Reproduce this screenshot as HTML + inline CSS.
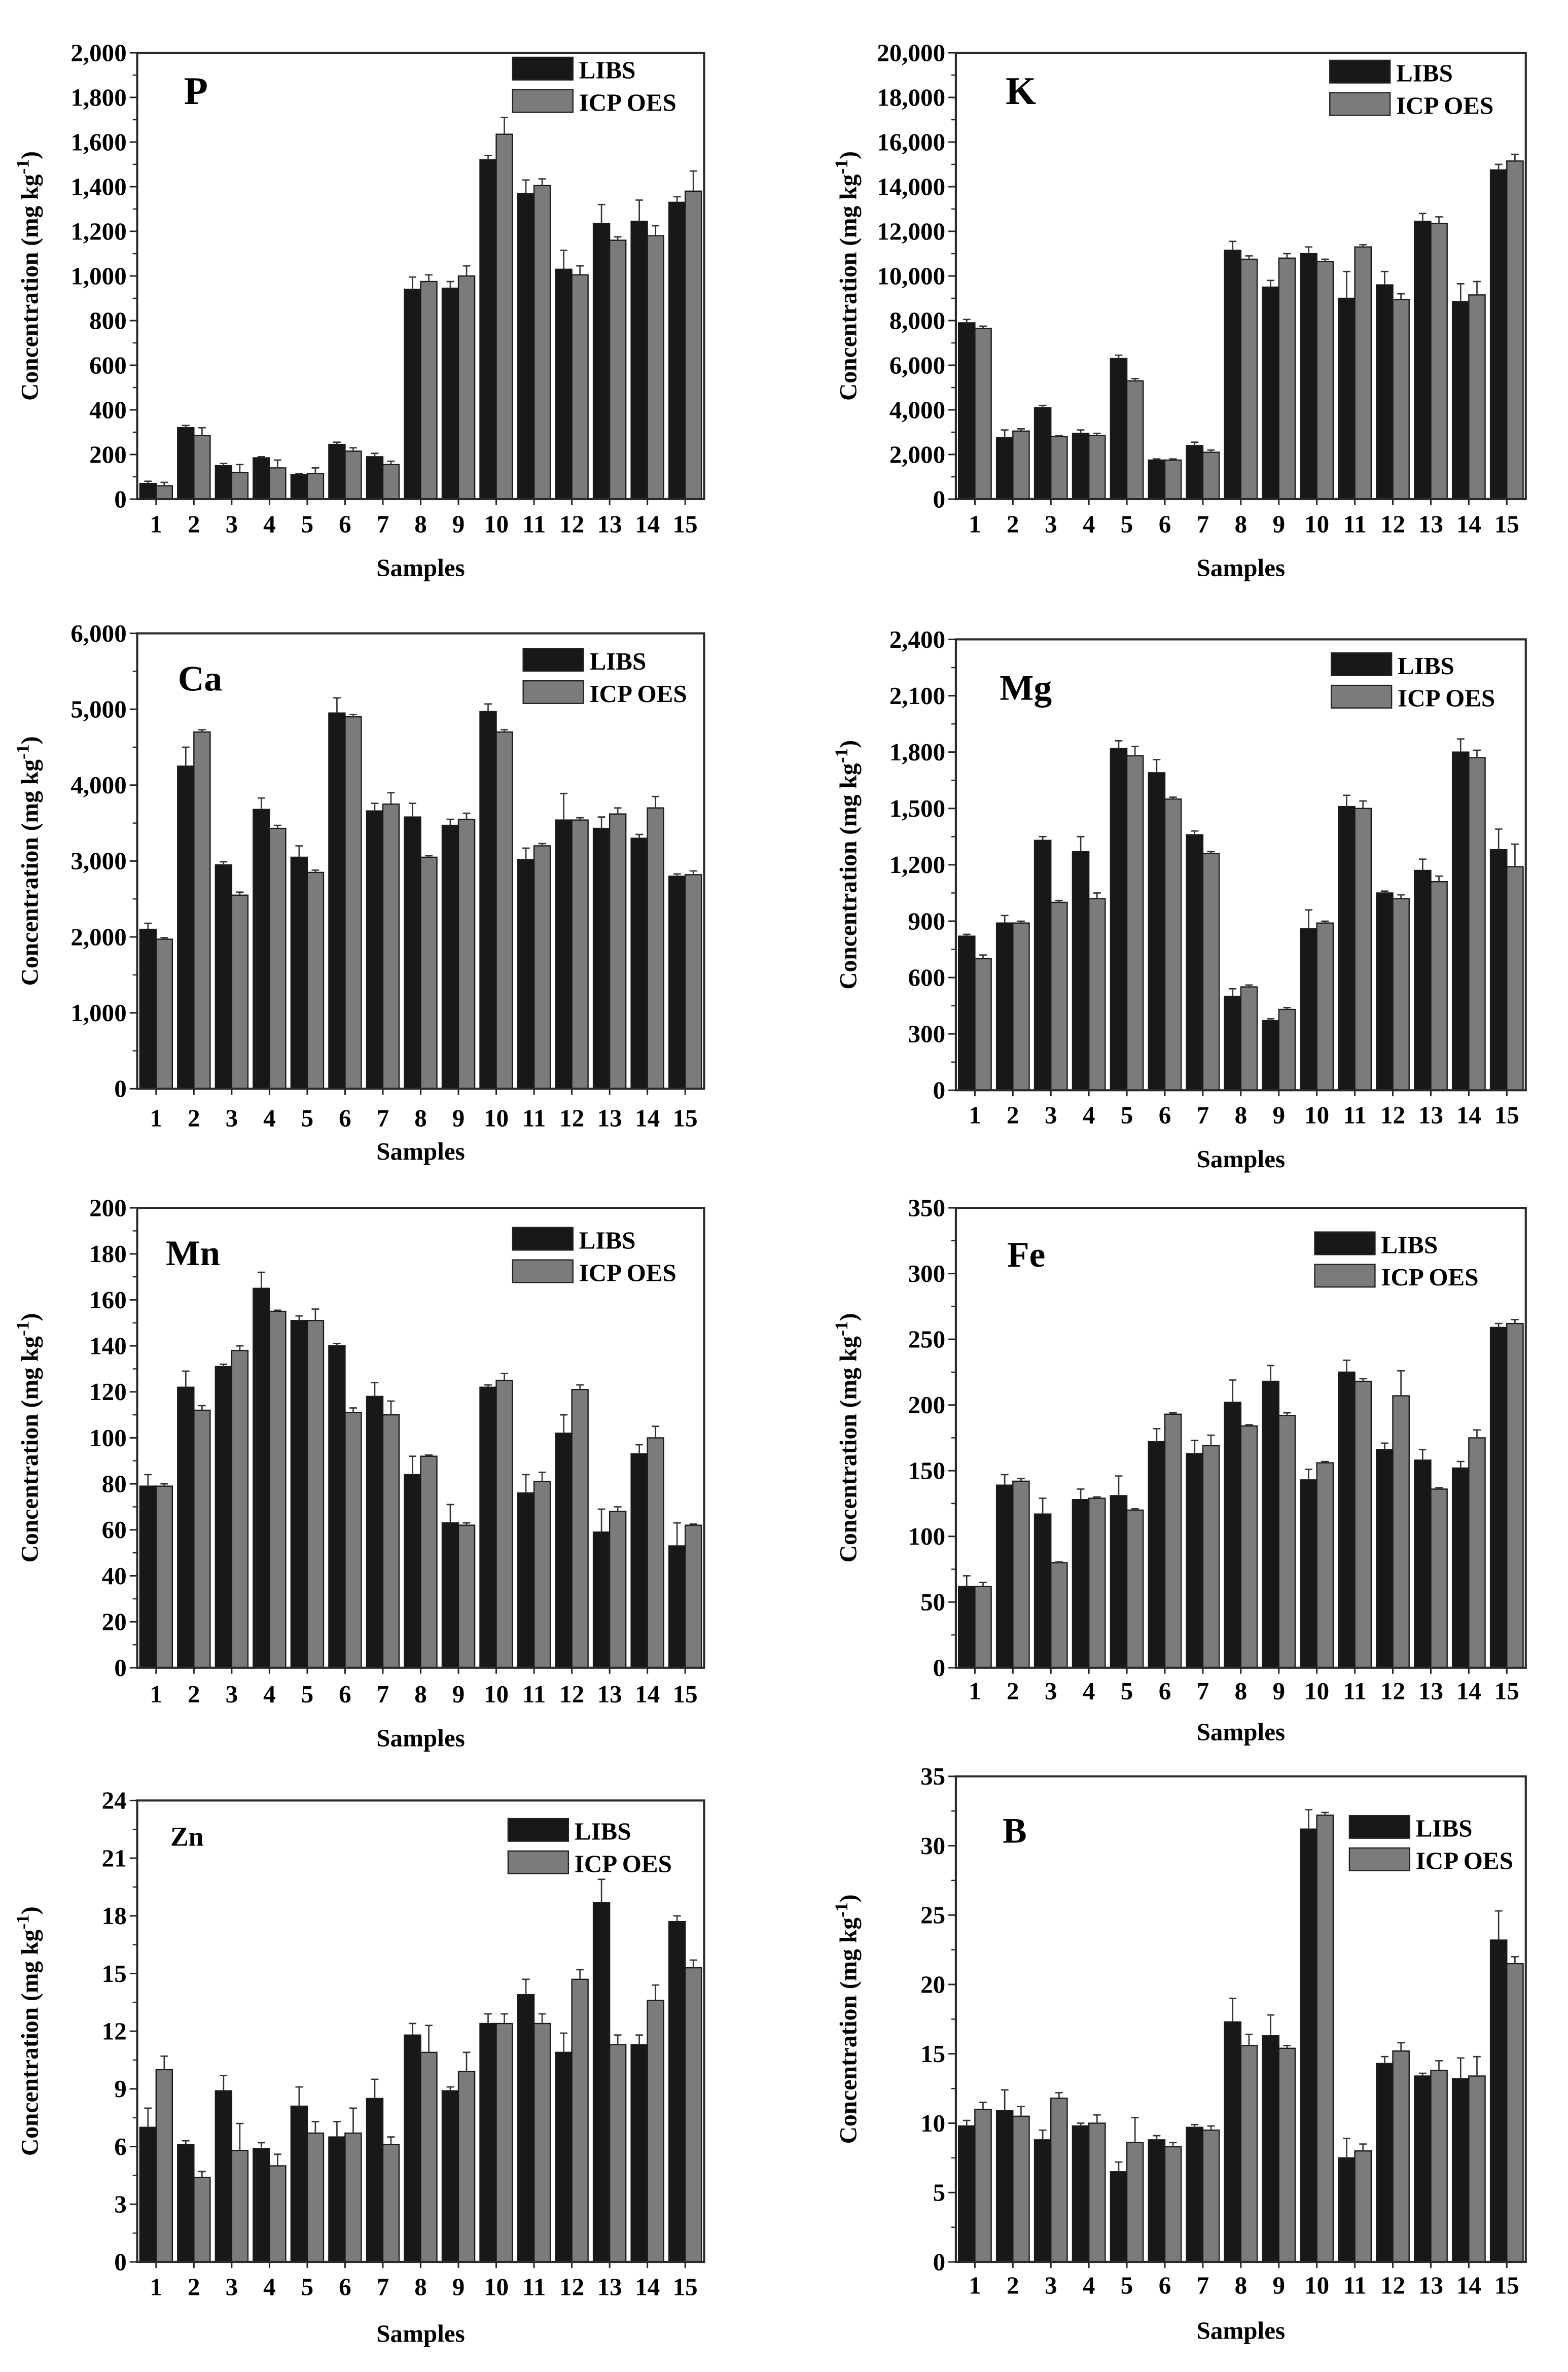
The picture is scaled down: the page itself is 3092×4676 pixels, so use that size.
<!DOCTYPE html>
<html><head><meta charset="utf-8"><style>html,body{margin:0;padding:0;background:#fff}svg{display:block}</style></head>
<body>
<svg id="fig" width="3092" height="4676" viewBox="0 0 1040 1573" preserveAspectRatio="none" xmlns="http://www.w3.org/2000/svg" font-family="Liberation Serif, serif" font-weight="bold"></svg>
<script>
const samples=[1,2,3,4,5,6,7,8,9,10,11,12,13,14,15];
const P_libs=[70,320,150,185,110,245,190,940,945,1520,1370,1030,1235,1245,1330];
const P_icp=[60,285,120,140,115,215,155,975,1000,1635,1405,1005,1160,1180,1380];
const P_libsErr=[10,10,10,5,5,10,15,55,30,20,60,85,85,95,25];
const P_icpErr=[15,35,35,35,25,15,15,30,45,75,30,40,15,45,90];
const K_libs=[7900,2750,4100,2950,6300,1750,2400,11150,9500,11000,9000,9600,12450,8850,14750];
const K_icp=[7650,3050,2800,2850,5300,1750,2100,10750,10800,10650,11300,8950,12350,9150,15150];
const K_libsErr=[150,350,100,150,150,50,150,400,300,300,1200,600,350,800,250];
const K_icpErr=[100,100,50,100,100,50,100,150,200,100,100,250,300,600,300];
const Ca_libs=[2100,4250,2950,3680,3050,4950,3660,3580,3470,4970,3020,3540,3430,3300,2800];
const Ca_icp=[1970,4700,2550,3430,2850,4900,3750,3050,3550,4700,3200,3540,3620,3700,2820];
const Ca_libsErr=[80,250,40,150,150,200,100,180,80,100,150,350,150,50,30];
const Ca_icpErr=[20,30,40,40,30,30,150,20,80,30,30,30,80,150,50];
const Mg_libs=[820,890,1330,1270,1820,1690,1360,500,370,860,1510,1050,1170,1800,1280];
const Mg_icp=[700,890,1000,1020,1780,1550,1260,550,430,890,1500,1020,1110,1770,1190];
const Mg_libsErr=[10,40,20,80,40,70,20,40,10,100,60,10,60,70,110];
const Mg_icpErr=[20,10,10,30,50,10,10,10,10,10,40,20,30,40,120];
const Mn_libs=[79,122,131,165,151,140,118,84,63,122,76,102,59,93,53];
const Mn_icp=[79,112,138,155,151,111,110,92,62,125,81,121,68,100,62];
const Mn_libsErr=[5,7,1,7,2,1,6,8,8,1,8,8,10,4,10];
const Mn_icpErr=[1,2,2,0.5,5,2,6,0.5,1,3,4,2,2,5,0.5];
const Fe_libs=[62,139,117,128,131,172,163,202,218,143,225,166,158,152,259];
const Fe_icp=[62,142,80,129,120,193,169,184,192,156,218,207,136,175,262];
const Fe_libsErr=[8,8,12,8,15,10,10,17,12,8,9,5,8,5,3];
const Fe_icpErr=[3,2,0.5,1,1,1,8,1,2,1,2,19,1,6,3];
const Zn_libs=[7.0,6.1,8.9,5.9,8.1,6.5,8.5,11.8,8.9,12.4,13.9,10.9,18.7,11.3,17.7];
const Zn_icp=[10.0,4.4,5.8,5.0,6.7,6.7,6.1,10.9,9.9,12.4,12.4,14.7,11.3,13.6,15.3];
const Zn_libsErr=[1.0,0.2,0.8,0.3,1.0,0.8,1.0,0.6,0.2,0.5,0.8,1.0,1.2,0.5,0.3];
const Zn_icpErr=[0.7,0.3,1.4,0.6,0.6,1.3,0.4,1.4,1.0,0.5,0.5,0.5,0.5,0.8,0.4];
const B_libs=[9.8,10.9,8.8,9.8,6.5,8.8,9.7,17.3,16.3,31.2,7.5,14.3,13.4,13.2,23.2];
const B_icp=[11.0,10.5,11.8,10.0,8.6,8.3,9.5,15.6,15.4,32.2,8.0,15.2,13.8,13.4,21.5];
const B_libsErr=[0.4,1.5,0.7,0.2,0.7,0.3,0.2,1.7,1.5,1.4,1.4,0.5,0.2,1.5,2.1];
const B_icpErr=[0.5,0.7,0.4,0.6,1.8,0.3,0.3,0.8,0.2,0.2,0.5,0.6,0.7,1.4,0.5];
const P_ticks=[0,200,400,600,800,1000,1200,1400,1600,1800,2000];
const K_ticks=[0,2000,4000,6000,8000,10000,12000,14000,16000,18000,20000];
const Ca_ticks=[0,1000,2000,3000,4000,5000,6000];
const Mg_ticks=[0,300,600,900,1200,1500,1800,2100,2400];
const Mn_ticks=[0,20,40,60,80,100,120,140,160,180,200];
const Fe_ticks=[0,50,100,150,200,250,300,350];
const Zn_ticks=[0,3,6,9,12,15,18,21,24];
const B_ticks=[0,5,10,15,20,25,30,35];

const NS='http://www.w3.org/2000/svg';
const svg=document.getElementById('fig');
function mk(tag,attrs,parent){const e=document.createElementNS(NS,tag);for(const k in attrs)e.setAttribute(k,attrs[k]);(parent||svg).appendChild(e);return e;}
function fmt(v){return v.toLocaleString('en-US');}

const panels=[
 {id:'p',el:'P',libs:P_libs,icp:P_icp,le:P_libsErr,ie:P_icpErr,ticks:P_ticks,L:91,R:467,T:35,B:331,lbY:353,sY:382,leg:[340,38],lab:[122,69,26]},
 {id:'k',el:'K',libs:K_libs,icp:K_icp,le:K_libsErr,ie:K_icpErr,ticks:K_ticks,L:634,R:1012,T:35,B:331,lbY:353,sY:382,leg:[882,40],lab:[667,69,26]},
 {id:'ca',el:'Ca',libs:Ca_libs,icp:Ca_icp,le:Ca_libsErr,ie:Ca_icpErr,ticks:Ca_ticks,L:91,R:467,T:420,B:722,lbY:747,sY:769,leg:[347,430],lab:[118,458,24]},
 {id:'mg',el:'Mg',libs:Mg_libs,icp:Mg_icp,le:Mg_libsErr,ie:Mg_icpErr,ticks:Mg_ticks,L:634,R:1012,T:424,B:723,lbY:745,sY:774,leg:[883,433],lab:[663,464,24]},
 {id:'mn',el:'Mn',libs:Mn_libs,icp:Mn_icp,le:Mn_libsErr,ie:Mn_icpErr,ticks:Mn_ticks,L:91,R:467,T:801,B:1106,lbY:1129,sY:1158,leg:[340,814],lab:[110,839,24]},
 {id:'fe',el:'Fe',libs:Fe_libs,icp:Fe_icp,le:Fe_libsErr,ie:Fe_icpErr,ticks:Fe_ticks,L:634,R:1012,T:801,B:1106,lbY:1127,sY:1154,leg:[872,817],lab:[668,840,24]},
 {id:'zn',el:'Zn',libs:Zn_libs,icp:Zn_icp,le:Zn_libsErr,ie:Zn_icpErr,ticks:Zn_ticks,L:91,R:467,T:1194,B:1500,lbY:1522,sY:1553,leg:[337,1206],lab:[113,1224,18]},
 {id:'b',el:'B',libs:B_libs,icp:B_icp,le:B_libsErr,ie:B_icpErr,ticks:B_ticks,L:634,R:1012,T:1178,B:1500,lbY:1521,sY:1551,leg:[895,1204],lab:[665,1222,24]}
];

panels.forEach(p=>{
  const g=mk('g',{});
  
  
  const ymax=p.ticks[p.ticks.length-1];
  const y=v=>p.B-(v/ymax)*(p.B-p.T);
  const slot=(p.R-p.L)/samples.length;
  const x=i=>p.L+slot*(i+0.5);
  const bw=slot*0.43;
  samples.forEach((s,i)=>{
    [[p.libs,p.le,'#161916',-bw,'libs'],[p.icp,p.ie,'#7b7b7b',0,'icp']].forEach(([arr,err,col,off,nm])=>{
      const v=arr[i],x0=x(i)+off,yt=y(v);
      const r=mk('rect',{x:x0,y:yt,width:bw,height:p.B-yt,fill:col,stroke:'#1a1a1a','stroke-width':0.8},g);
      
      
      const ye=y(v+err[i]),cx=x0+bw/2;
      const e=mk('path',{d:`M${cx},${yt}V${ye}M${cx-2.5},${ye}H${cx+2.5}`,stroke:'#333','stroke-width':0.9,fill:'none'},g);
      
      
    });
    const t=mk('text',{x:x(i),y:p.lbY,'font-size':16.5,'text-anchor':'middle'},g);
    t.textContent=s;
    
    
    mk('line',{x1:x(i),x2:x(i),y1:p.B,y2:p.B+4,stroke:'#222','stroke-width':1},g);
  });
  const f=mk('rect',{x:p.L,y:p.T,width:p.R-p.L,height:p.B-p.T,fill:'none',stroke:'#2a2a2a','stroke-width':1.4},g);
  
  
  p.ticks.forEach((tv,k)=>{
    mk('line',{x1:p.L-5,x2:p.L,y1:y(tv),y2:y(tv),stroke:'#222','stroke-width':1},g);
    if(k<p.ticks.length-1){const mv=(tv+p.ticks[k+1])/2;mk('line',{x1:p.L-3,x2:p.L,y1:y(mv),y2:y(mv),stroke:'#222','stroke-width':0.8},g);}
    const t=mk('text',{x:p.L-7,y:y(tv)+5.5,'font-size':16.5,'text-anchor':'end'},g);
    t.textContent=fmt(tv);
    
    
  });
  const cy=(p.T+p.B)/2;
  const yt=mk('text',{x:0,y:0,'font-size':16,'text-anchor':'middle',transform:`translate(${p.L-66},${cy}) rotate(-90)`},g);
  yt.innerHTML='Concentration (mg kg<tspan dy="-6" font-size="12">-1</tspan><tspan dy="6">)</tspan>';
  
  
  const xt=mk('text',{x:(p.L+p.R)/2,y:p.sY,'font-size':16.5,'text-anchor':'middle'},g);
  xt.textContent='Samples';
  
  
  const lt=mk('text',{x:p.lab[0],y:p.lab[1],'font-size':p.lab[2]},g);
  lt.textContent=p.el;
  
  
  [['LIBS','#161916',0],['ICP OES','#7b7b7b',21.5]].forEach(([nm,col,dy])=>{
    const lg=mk('g',{},g);
    
    
    mk('rect',{x:p.leg[0],y:p.leg[1]+dy,width:40,height:15,fill:col,stroke:'#222','stroke-width':0.8},lg);
    const t=mk('text',{x:p.leg[0]+44,y:p.leg[1]+dy+14,'font-size':16.5},lg);
    t.textContent=nm;
  });
});
</script>
</body></html>
